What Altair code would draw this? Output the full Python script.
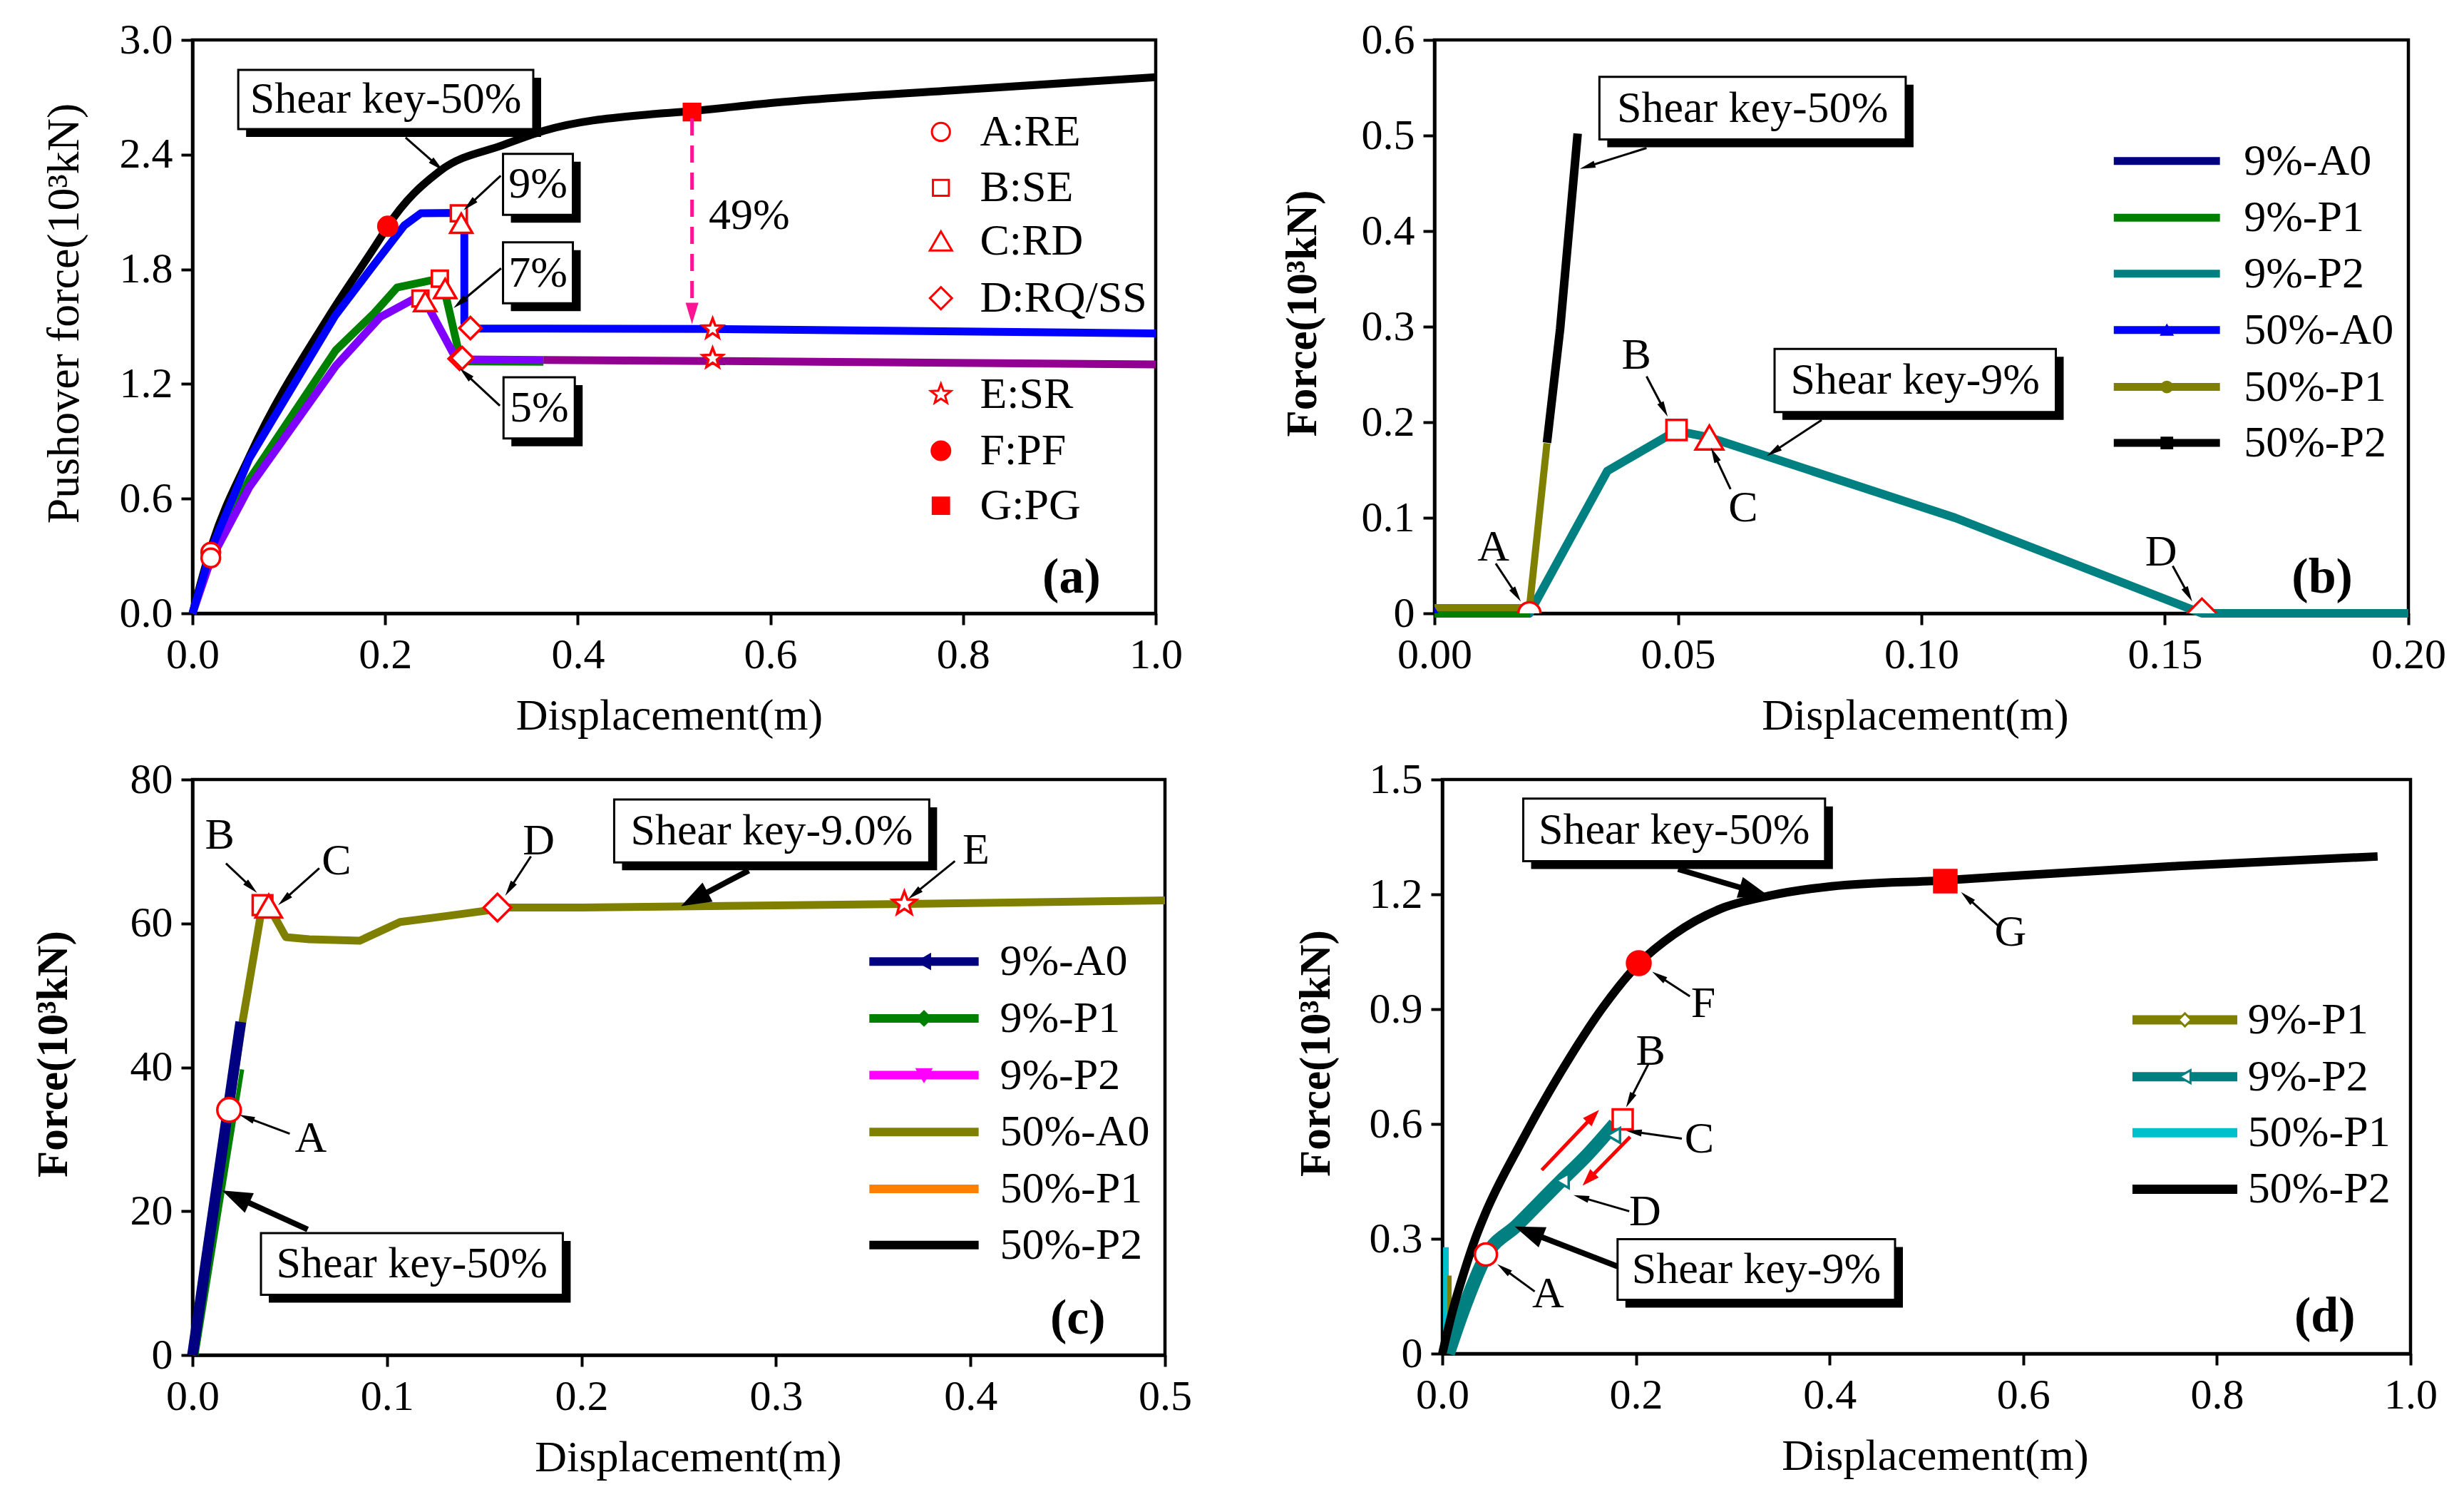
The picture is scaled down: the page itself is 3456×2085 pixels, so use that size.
import math
import altair as alt
import pandas as pd

FONT = "Liberation Serif"
RED = "#FF0000"
NAVY, GREEN, TEAL, BLUE, OLIVE = "#000080", "#008000", "#008080", "#0000FF", "#808000"
VIOLET, PURPLE, MAGENTA, ORANGE, CYAN, PINK = "#8000FF", "#910091", "#FF00FF", "#FF8000", "#00C0CC", "#FF1493"

# ---------------- panel (a): pushover curves ----------------
A_50_X = [0, 0.019, 0.06, 0.1426, 0.197, 0.2027, 0.257, 0.3229, 0.3657, 0.4802, 0.5186, 0.6, 0.8, 1.0]
A_50_Y = [0, 0.34, 0.83, 1.562, 1.979, 2.025, 2.315, 2.451, 2.526, 2.613, 2.628, 2.67, 2.74, 2.805]
A_9_X = [0, 0.01, 0.019, 0.059, 0.148, 0.1855, 0.22, 0.237, 0.277, 0.2822, 0.2822, 0.2845, 0.54, 1.0]
A_9_Y = [0, 0.17, 0.33, 0.81, 1.556, 1.805, 2.03, 2.093, 2.095, 2.04, 1.52, 1.49, 1.488, 1.465]
A_7_X = [0, 0.019, 0.059, 0.1488, 0.1887, 0.2124, 0.2485, 0.2568, 0.2635, 0.2735, 0.2773, 0.282, 0.3643]
A_7_Y = [0, 0.30, 0.70, 1.377, 1.571, 1.705, 1.743, 1.751, 1.649, 1.432, 1.345, 1.318, 1.316]
A_5_X = [0, 0.019, 0.059, 0.1488, 0.195, 0.2286, 0.2416, 0.2485, 0.271, 0.276, 0.282, 0.3643]
A_5_Y = [0, 0.28, 0.66, 1.295, 1.55, 1.641, 1.631, 1.568, 1.357, 1.332, 1.328, 1.326]
A_RES_X = [0.3643, 0.54, 1.0]
A_RES_Y = [1.326, 1.32, 1.302]
# markers: (kind, x, y)
A_MARKS = [("circle", 0.019, 0.32), ("circle", 0.019, 0.29),
           ("square", 0.2765, 2.093), ("square", 0.2568, 1.751), ("square", 0.2366, 1.647),
           ("triangle", 0.279, 2.041), ("triangle", 0.2623, 1.699), ("triangle", 0.2416, 1.631),
           ("diamond", 0.2885, 1.4925), ("diamond", 0.2773, 1.332), ("diamond", 0.2800, 1.336),
           ("star", 0.54, 1.488), ("star", 0.54, 1.334),
           ("fcircle", 0.2027, 2.025), ("fsquare", 0.5186, 2.623)]
A_LEG_KINDS = ["circle", "square", "triangle", "diamond", "star", "fcircle", "fsquare"]
A_LEG_LABELS = ["A:RE", "B:SE", "C:RD", "D:RQ/SS", "E:SR", "F:PF", "G:PG"]
A_LEG_Y = [2.519, 2.226, 1.948, 1.649, 1.146, 0.851, 0.563]
A_LEG_X = [0.777, 0.8175]
A_BOXES = [("Shear key-50%", 0.0475, 0.3538, 2.843, 2.534), ("9%", 0.3224, 0.3949, 2.404, 2.085),
           ("7%", 0.3224, 0.3949, 1.941, 1.622), ("5%", 0.3229, 0.3969, 1.235, 0.915)]
A_ARROWS = [(0.2212, 2.489, 0.26, 2.317, "thin"), (0.32, 2.29, 0.2814, 2.109, "thin"),
            (0.3204, 1.805, 0.271, 1.597, "thin"), (0.3191, 1.086, 0.2773, 1.2825, "thin"),
            (0.5186, 2.59, 0.5186, 1.513, "pink")]
A_TEXTS = [("49%", 0.578, 2.083)]
A_TAG = ("(a)", 0.9126, 0.186)

# ---------------- panel (b) ----------------
B_9A0_X, B_9A0_Y = [0, 0.0195], [0, 0]
B_9P1_X, B_9P1_Y = [0, 0.0195], [0, 0]
B_9P2_X = [0, 0.0195, 0.0355, 0.0497, 0.0565, 0.1069, 0.1576, 0.2]
B_9P2_Y = [0, 0, 0.149, 0.191, 0.184, 0.1, 0.0, 0.0]
B_50A0_X, B_50A0_Y = [0, 0.0195], [0, 0]
B_50P1_X, B_50P1_Y = [0, 0.0195, 0.0231], [0.006, 0.006, 0.178]
B_50P2_X, B_50P2_Y = [0.0231, 0.0258, 0.0294], [0.1785, 0.2975, 0.502]
B_MARKS = [("circle", 0.0195, 0.0), ("square", 0.0497, 0.1919), ("triangle", 0.05645, 0.184), ("diamond", 0.1576, 0.0)]
B_LEG_LABELS = ["9%-A0", "9%-P1", "9%-P2", "50%-A0", "50%-P1", "50%-P2"]
B_LEG_COLORS = [NAVY, GREEN, TEAL, BLUE, OLIVE, "black"]
B_LEG_SYMS = [None, None, None, "triangle-up", "circle", "square"]
B_LEG_Y = [0.4734, 0.4139, 0.3554, 0.2964, 0.2369, 0.1783]
B_LEG_X = [0.1395, 0.1613, 0.1662]
B_BOXES = [("Shear key-50%", 0.03387, 0.09677, 0.5613, 0.4959), ("Shear key-9%", 0.06984, 0.1276, 0.2767, 0.2107)]
B_ARROWS = [(0.04355, 0.4869, 0.02984, 0.4651, "thin"), (0.0795, 0.2023, 0.06823, 0.1646, "thin"),
            (0.01258, 0.0521, 0.01774, 0.0124, "thin"), (0.04355, 0.2479, 0.0479, 0.2058, "thin"),
            (0.0608, 0.1299, 0.05677, 0.1736, "thin"), (0.1516, 0.0496, 0.1556, 0.0124, "thin")]
B_TEXTS = [("A", 0.0121, 0.0694), ("B", 0.04145, 0.2702), ("C", 0.06339, 0.1101), ("D", 0.1492, 0.0645)]
B_TAG = ("(b)", 0.1823, 0.0372)

# ---------------- panel (c) ----------------
C_9A0_X, C_9A0_Y = [0, 0.0248], [0, 46.3]
C_9P1_X, C_9P1_Y = [0.002, 0.0255], [0, 39.7]
C_9P2_X, C_9P2_Y = [0, 0.02], [0, 37.3]
C_50A0_X = [0, 0.0255, 0.028, 0.0352, 0.0375, 0.042, 0.048, 0.06, 0.086, 0.1068, 0.13, 0.1628, 0.2, 0.3, 0.366, 0.5]
C_50A0_Y = [0, 46, 49.9, 61.4, 62.5, 61.0, 58.1, 57.8, 57.6, 60.2, 61.0, 62.2, 62.2, 62.5, 62.7, 63.2]
C_50P1_X, C_50P1_Y = [0, 0.015], [0, 28.0]
C_50P2_X, C_50P2_Y = [0, 0.012], [0, 22.4]
C_MARKS = [("circle", 0.0188, 34.07), ("square", 0.036, 62.54), ("triangle", 0.0392, 62.4),
           ("diamond", 0.1568, 62.2), ("star", 0.366, 62.74)]
C_LEG_LABELS = ["9%-A0", "9%-P1", "9%-P2", "50%-A0", "50%-P1", "50%-P2"]
C_LEG_COLORS = [NAVY, GREEN, MAGENTA, OLIVE, ORANGE, "black"]
C_LEG_SYMS = ["triangle-left", "diamond", "triangle-down", None, None, None]
C_LEG_Y = [54.7, 46.8, 38.9, 31.0, 23.1, 15.3]
C_LEG_X = [0.348, 0.4042, 0.4151]
C_BOXES = [("Shear key-9.0%", 0.2168, 0.3788, 77.23, 68.47), ("Shear key-50%", 0.0352, 0.1904, 16.94, 8.37)]
C_ARROWS = [(0.286, 67.35, 0.2512, 62.4, "thick"), (0.0592, 17.46, 0.0152, 22.87, "thick"),
            (0.05, 30.77, 0.024, 33.4, "thin"), (0.0172, 68.34, 0.0332, 64.25, "thin"),
            (0.0652, 67.68, 0.044, 62.54, "thin"), (0.174, 69.32, 0.1608, 63.85, "thin"),
            (0.392, 68.67, 0.368, 63.4, "thin")]
C_TEXTS = [("A", 0.0608, 30.1), ("B", 0.014, 72.3), ("C", 0.074, 68.67), ("D", 0.178, 71.43), ("E", 0.4028, 70.18)]
C_TAG = ("(c)", 0.4552, 5.07)

# ---------------- panel (d) ----------------
D_50P2_X = [0, 0.0098, 0.0221, 0.0344, 0.0442, 0.081, 0.132, 0.166, 0.204, 0.239, 0.288, 0.337, 0.402, 0.52,
            0.6, 0.76, 0.966]
D_50P2_Y = [0, 0.104, 0.21, 0.303, 0.365, 0.55, 0.775, 0.905, 1.022, 1.095, 1.163, 1.196, 1.221, 1.237,
            1.25, 1.274, 1.299]
D_9P2_X = [0.0061, 0.0221, 0.0454, 0.077, 0.122, 0.15, 0.178]
D_9P2_Y = [0, 0.117, 0.2566, 0.335, 0.45, 0.52, 0.6]
D_50P1_X, D_50P1_Y = [0.0037, 0.0037], [0, 0.278]
D_9P1_X, D_9P1_Y = [0.0074, 0.0074], [0, 0.204]
D_TEAL_MARKS = [(0.124, 0.452), (0.177, 0.57)]
D_MARKS = [("circle", 0.045, 0.259), ("square", 0.1863, 0.612), ("fcircle", 0.2029, 1.0202), ("fsquare", 0.5195, 1.2347)]
D_LEG_LABELS = ["9%-P1", "9%-P2", "50%-P1", "50%-P2"]
D_LEG_COLORS = [OLIVE, TEAL, CYAN, "black"]
D_LEG_SYMS = ["diamond", "triangle-left", None, None]
D_LEG_Y = [0.872, 0.7236, 0.577, 0.4297]
D_LEG_X = [0.7128, 0.8211, 0.832]
D_BOXES = [("Shear key-50%", 0.0836, 0.3953, 1.4503, 1.2867), ("Shear key-9%", 0.181, 0.4676, 0.2993, 0.1405)]
D_ARROWS = [(0.2435, 1.2657, 0.3369, 1.1962, "thick"), (0.181, 0.2277, 0.0747, 0.3322, "thick"),
            (0.0954, 0.1623, 0.0567, 0.2338, "thin"), (0.2128, 0.7565, 0.1898, 0.6432, "thin"),
            (0.2474, 0.5618, 0.1898, 0.5823, "thin"), (0.1931, 0.372, 0.1355, 0.4142, "thin"),
            (0.2557, 0.9334, 0.2167, 0.9979, "thin"), (0.5763, 1.1132, 0.5357, 1.2062, "thin"),
            (0.1027, 0.4796, 0.1619, 0.637, "red"), (0.194, 0.5666, 0.1448, 0.439, "red")]
D_TEXTS = [("A", 0.1093, 0.156), ("B", 0.2151, 0.7909), ("C", 0.2654, 0.5605), ("D", 0.2095, 0.3708),
           ("F", 0.2695, 0.9148), ("G", 0.5869, 1.1008)]
D_TAG = ("(d)", 0.9115, 0.0967)


def star_path(R=1.0, r=0.42):
    pts = []
    for k in range(10):
        ang = math.radians(-90 + 36 * k)
        rad = R if k % 2 == 0 else r
        pts.append((rad * math.cos(ang), rad * math.sin(ang)))
    return "M" + "L".join(f"{x:.3f},{y:.3f}" for x, y in pts) + "Z"


STAR = star_path()
SHAPE = {"circle": "circle", "square": "square", "triangle": "triangle-up", "diamond": "diamond",
         "star": STAR, "fcircle": "circle", "fsquare": "square"}
# arrow styles: head path, head length px, shaft width, colour, dash
ARROW = {"thin": ("M0,0L-0.45,2L0.45,2Z", 22, 3, "black", None),
         "thick": ("M0,0L-0.72,2L0.72,2Z", 42, 8, "black", None),
         "red": ("M0,0L-0.7,2L0.7,2Z", 24, 5, RED, None),
         "pink": ("M0,0L-0.6,2L0.6,2Z", 30, 5, PINK, [24, 14])}


def make_panel(p):
    W, H, xd, yd = p["W"], p["H"], p["xd"], p["yd"]
    common = dict(domainColor="black", domainWidth=4.5, tickColor="black", tickWidth=4, tickSize=16,
                  labelFont=FONT, labelFontSize=60, labelColor="black", titleFont=FONT, titleColor="black",
                  grid=False, labelFlush=False, labelOverlap=False)
    ax = alt.Axis(values=p["xvals"], labelExpr=p["xfmt"], title="Displacement(m)", titleFontSize=62,
                  titleFontWeight="normal", titleX=W / 2 + p["xtx"], titleY=143, titleBaseline="middle",
                  titleAlign="center", labelPadding=13, **common)
    ay = alt.Axis(values=p["yvals"], labelExpr=p["yfmt"], title=p["ytitle"], titleFontSize=p["ytfs"],
                  titleFontWeight="bold" if p["ybold"] else "normal", titleX=p["ytx"], titleY=H / 2 - 19,
                  titleBaseline="middle", titleAlign="center", titleAngle=270, labelPadding=12, **common)
    X = alt.X("x:Q", scale=alt.Scale(domain=xd, nice=False, zero=False), axis=ax)
    Y = alt.Y("y:Q", scale=alt.Scale(domain=yd, nice=False, zero=False), axis=ay)
    sx = W / (xd[1] - xd[0])
    sy = H / (yd[1] - yd[0])

    def to_px(x, y):
        return (x - xd[0]) * sx, (yd[1] - y) * sy

    def from_px(px, py):
        return xd[0] + px / sx, yd[1] - py / sy

    layers = []
    # lines
    for xs, ys, color, width, interp in p["lines"]:
        df = pd.DataFrame({"x": xs, "y": ys, "i": list(range(len(xs)))})
        layers.append(alt.Chart(df).mark_line(color=color, strokeWidth=width, strokeJoin="round",
                                              strokeCap="butt", interpolate=interp).encode(x=X, y=Y, order="i:Q"))
    # markers
    rows = []
    for kind, x, y in p["marks"]:
        filled = kind.startswith("f")
        rows.append({"x": x, "y": y, "shape": SHAPE[kind], "fill": RED if filled else "white",
                     "stroke": RED, "size": p["msize"][kind]})
    for x, y, shape, fill, stroke, size in p.get("extra_marks", []):
        rows.append({"x": x, "y": y, "shape": shape, "fill": fill, "stroke": stroke, "size": size})
    if rows:
        layers.append(alt.Chart(pd.DataFrame(rows)).mark_point(filled=True, opacity=1, strokeWidth=3.5,
                                                              clip=p.get("clip", False)).encode(
            x=X, y=Y, shape=alt.Shape("shape:N", scale=None), fill=alt.Fill("fill:N", scale=None),
            stroke=alt.Stroke("stroke:N", scale=None), size=alt.Size("size:Q", scale=None)))
    # arrows
    for kind in ["thin", "thick", "red", "pink"]:
        arr = [a for a in p["arrows"] if a[4] == kind]
        if not arr:
            continue
        path, hl, sw, color, dash = ARROW[kind]
        shafts, heads = [], []
        for x0, y0, x1, y1, _ in arr:
            px0, py0 = to_px(x0, y0)
            px1, py1 = to_px(x1, y1)
            dx, dy = px1 - px0, py1 - py0
            L = math.hypot(dx, dy)
            ux, uy = dx / L, dy / L
            ex, ey = from_px(px1 - ux * hl * 0.85, py1 - uy * hl * 0.85)
            shafts.append({"x": x0, "y": y0, "x2": ex, "y2": ey})
            heads.append({"x": x1, "y": y1, "ang": math.degrees(math.atan2(dx, -dy)) % 360})
        mk = dict(color=color, strokeWidth=sw)
        if dash:
            mk["strokeDash"] = dash
        layers.append(alt.Chart(pd.DataFrame(shafts)).mark_rule(**mk).encode(
            x=X, y=Y, x2=alt.X2("x2:Q"), y2=alt.Y2("y2:Q")))
        layers.append(alt.Chart(pd.DataFrame(heads)).mark_point(filled=True, opacity=1, shape=path,
                                                               size=hl * hl, color=color, strokeWidth=0).encode(
            x=X, y=Y, angle=alt.Angle("ang:Q", scale=None)))
    # label boxes
    bdf = pd.DataFrame([{"x": x1, "x2": x2, "y": y1, "y2": y2} for t, x1, x2, y1, y2 in p["boxes"]])
    layers.append(alt.Chart(bdf).mark_rect(color="black", xOffset=11, x2Offset=11, yOffset=11,
                                           y2Offset=11).encode(x=X, x2=alt.X2("x2:Q"), y=Y, y2=alt.Y2("y2:Q")))
    layers.append(alt.Chart(bdf).mark_rect(fill="white", stroke="black", strokeWidth=3).encode(
        x=X, x2=alt.X2("x2:Q"), y=Y, y2=alt.Y2("y2:Q")))
    tdf = pd.DataFrame([{"x": (x1 + x2) / 2, "y": (y1 + y2) / 2, "t": t} for t, x1, x2, y1, y2 in p["boxes"]]
                       + [{"x": x, "y": y, "t": t} for t, x, y in p["texts"]])
    layers.append(alt.Chart(tdf).mark_text(font=FONT, fontSize=62, color="black", align="center",
                                           baseline="middle").encode(x=X, y=Y, text="t:N"))
    tag, tx, ty = p["tag"]
    layers.append(alt.Chart(pd.DataFrame([{"x": tx, "y": ty, "t": tag}])).mark_text(
        font=FONT, fontSize=70, fontWeight="bold", color="black", align="center", baseline="middle").encode(
        x=X, y=Y, text="t:N"))
    # legend
    leg = p["legend"]
    if leg["type"] == "marks":
        mx, tx2 = leg["x"]
        lrows = []
        for kind, lab, y in zip(leg["kinds"], leg["labels"], leg["y"]):
            filled = kind.startswith("f")
            lrows.append({"x": mx, "y": y, "shape": SHAPE[kind], "fill": RED if filled else "white",
                          "stroke": RED, "size": p["lsize"][kind]})
        layers.append(alt.Chart(pd.DataFrame(lrows)).mark_point(filled=True, opacity=1, strokeWidth=3).encode(
            x=X, y=Y, shape=alt.Shape("shape:N", scale=None), fill=alt.Fill("fill:N", scale=None),
            stroke=alt.Stroke("stroke:N", scale=None), size=alt.Size("size:Q", scale=None)))
        ltd = pd.DataFrame([{"x": tx2, "y": y, "t": lab} for lab, y in zip(leg["labels"], leg["y"])])
    else:
        x1, x2, tx2 = leg["x"]
        for lab, col, sym, y in zip(leg["labels"], leg["colors"], leg["syms"], leg["y"]):
            ldf = pd.DataFrame([{"x": x1, "x2": x2, "y": y}])
            layers.append(alt.Chart(ldf).mark_rule(color=col, strokeWidth=leg["lw"]).encode(
                x=X, x2=alt.X2("x2:Q"), y=Y))
            if sym:
                sdf = pd.DataFrame([{"x": (x1 + x2) / 2, "y": y}])
                fill = "white" if leg.get("open") else col
                layers.append(alt.Chart(sdf).mark_point(filled=True, opacity=1, shape=sym, size=leg["ms"],
                                                        fill=fill, stroke=col, strokeWidth=3).encode(x=X, y=Y))
        ltd = pd.DataFrame([{"x": tx2, "y": y, "t": lab} for lab, y in zip(leg["labels"], leg["y"])])
    layers.append(alt.Chart(ltd).mark_text(font=FONT, fontSize=62, color="black", align="left",
                                           baseline="middle").encode(x=X, y=Y, text="t:N"))
    return alt.layer(*layers).properties(width=W, height=H)


F1 = "format(datum.value, '.1f')"
F2 = "format(datum.value, '.2f')"
FZ = "datum.value == 0 ? '0' : format(datum.value, '.1f')"
FD = "format(datum.value, 'd')"
LIN, SMOOTH = "linear", "monotone"

PA = dict(W=1351, H=804, xd=[0, 1], yd=[0, 3], xvals=[0, 0.2, 0.4, 0.6, 0.8, 1.0],
          yvals=[0, 0.6, 1.2, 1.8, 2.4, 3.0], xfmt=F1, yfmt=F1, ytitle="Pushover force(10³kN)", ybold=False,
          ytfs=64, ytx=-180, xtx=-7,
          lines=[(A_50_X, A_50_Y, "black", 11, SMOOTH), (A_RES_X, A_RES_Y, PURPLE, 11, LIN),
                 (A_7_X, A_7_Y, GREEN, 11, LIN), (A_5_X, A_5_Y, VIOLET, 11, LIN), (A_9_X, A_9_Y, BLUE, 11, LIN)],
          marks=A_MARKS,
          msize={"circle": 676, "square": 500, "triangle": 961, "diamond": 961, "star": 870, "fcircle": 700,
                 "fsquare": 520},
          lsize={"circle": 640, "square": 500, "triangle": 961, "diamond": 961, "star": 870, "fcircle": 680,
                 "fsquare": 520},
          arrows=A_ARROWS, boxes=A_BOXES, texts=A_TEXTS, tag=A_TAG,
          legend=dict(type="marks", kinds=A_LEG_KINDS, labels=A_LEG_LABELS, y=A_LEG_Y, x=A_LEG_X))

PB = dict(W=1366, H=804, xd=[0, 0.2], yd=[0, 0.6], xvals=[0, 0.05, 0.1, 0.15, 0.2],
          yvals=[0, 0.1, 0.2, 0.3, 0.4, 0.5, 0.6], xfmt=F2, yfmt=FZ, ytitle="Force(10³kN)", ybold=True,
          ytfs=61, ytx=-185, xtx=-9,
          lines=[(B_9P2_X, B_9P2_Y, TEAL, 12, LIN), (B_9A0_X, B_9A0_Y, NAVY, 12, LIN),
                 (B_50A0_X, B_50A0_Y, BLUE, 12, LIN), (B_9P1_X, B_9P1_Y, GREEN, 12, LIN),
                 (B_50P2_X, B_50P2_Y, "black", 12, LIN), (B_50P1_X, B_50P1_Y, OLIVE, 10, LIN)],
          marks=B_MARKS, clip=True,
          extra_marks=[(0, 0, "triangle-up", BLUE, BLUE, 200)],
          msize={"circle": 961, "square": 800, "triangle": 1500, "diamond": 1700},
          arrows=B_ARROWS, boxes=B_BOXES, texts=B_TEXTS, tag=B_TAG,
          legend=dict(type="lines", labels=B_LEG_LABELS, colors=B_LEG_COLORS, syms=B_LEG_SYMS, y=B_LEG_Y,
                      x=B_LEG_X, lw=11, ms=220))

PC = dict(W=1364, H=807, xd=[0, 0.5], yd=[0, 80], xvals=[0, 0.1, 0.2, 0.3, 0.4, 0.5],
          yvals=[0, 20, 40, 60, 80], xfmt=F1, yfmt=FD, ytitle="Force(10³kN)", ybold=True,
          ytfs=61, ytx=-195, xtx=13,
          lines=[(C_50A0_X, C_50A0_Y, OLIVE, 11, LIN), (C_9P2_X, C_9P2_Y, MAGENTA, 6, LIN),
                 (C_50P1_X, C_50P1_Y, ORANGE, 6, LIN), (C_50P2_X, C_50P2_Y, "black", 6, LIN),
                 (C_9P1_X, C_9P1_Y, GREEN, 6, LIN), (C_9A0_X, C_9A0_Y, NAVY, 15, LIN)],
          marks=C_MARKS,
          msize={"circle": 1089, "square": 760, "triangle": 1369, "diamond": 1490, "star": 1200},
          arrows=C_ARROWS, boxes=C_BOXES, texts=C_TEXTS, tag=C_TAG,
          legend=dict(type="lines", labels=C_LEG_LABELS, colors=C_LEG_COLORS, syms=C_LEG_SYMS, y=C_LEG_Y,
                      x=C_LEG_X, lw=12, ms=380))

PD = dict(W=1358, H=805, xd=[0, 1], yd=[0, 1.5], xvals=[0, 0.2, 0.4, 0.6, 0.8, 1.0],
          yvals=[0, 0.3, 0.6, 0.9, 1.2, 1.5], xfmt=F1, yfmt=FZ, ytitle="Force(10³kN)", ybold=True,
          ytfs=61, ytx=-177, xtx=12,
          lines=[(D_50P1_X, D_50P1_Y, CYAN, 8, LIN), (D_9P1_X, D_9P1_Y, OLIVE, 6, LIN),
                 (D_9P2_X, D_9P2_Y, TEAL, 19, SMOOTH), (D_50P2_X, D_50P2_Y, "black", 12, SMOOTH)],
          marks=D_MARKS,
          extra_marks=[(x, y, "triangle-left", "white", TEAL, 420) for x, y in D_TEAL_MARKS],
          msize={"circle": 961, "square": 784, "fcircle": 1089, "fsquare": 961},
          arrows=D_ARROWS, boxes=D_BOXES, texts=D_TEXTS, tag=D_TAG,
          legend=dict(type="lines", labels=D_LEG_LABELS, colors=D_LEG_COLORS, syms=D_LEG_SYMS, y=D_LEG_Y,
                      x=D_LEG_X, lw=13, ms=330, open=True))

row1 = alt.hconcat(make_panel(PA), make_panel(PB), spacing=391, bounds="flush")
row2 = alt.hconcat(make_panel(PC), make_panel(PD), spacing=389, bounds="flush")
chart = alt.vconcat(row1, row2, spacing=23).properties(
    padding={"left": 33, "top": 15, "right": 5, "bottom": 5}, background="white"
).configure_view(stroke="black", strokeWidth=4.5)

chart.save("out.html", embed_options={"renderer": "svg", "actions": False})
